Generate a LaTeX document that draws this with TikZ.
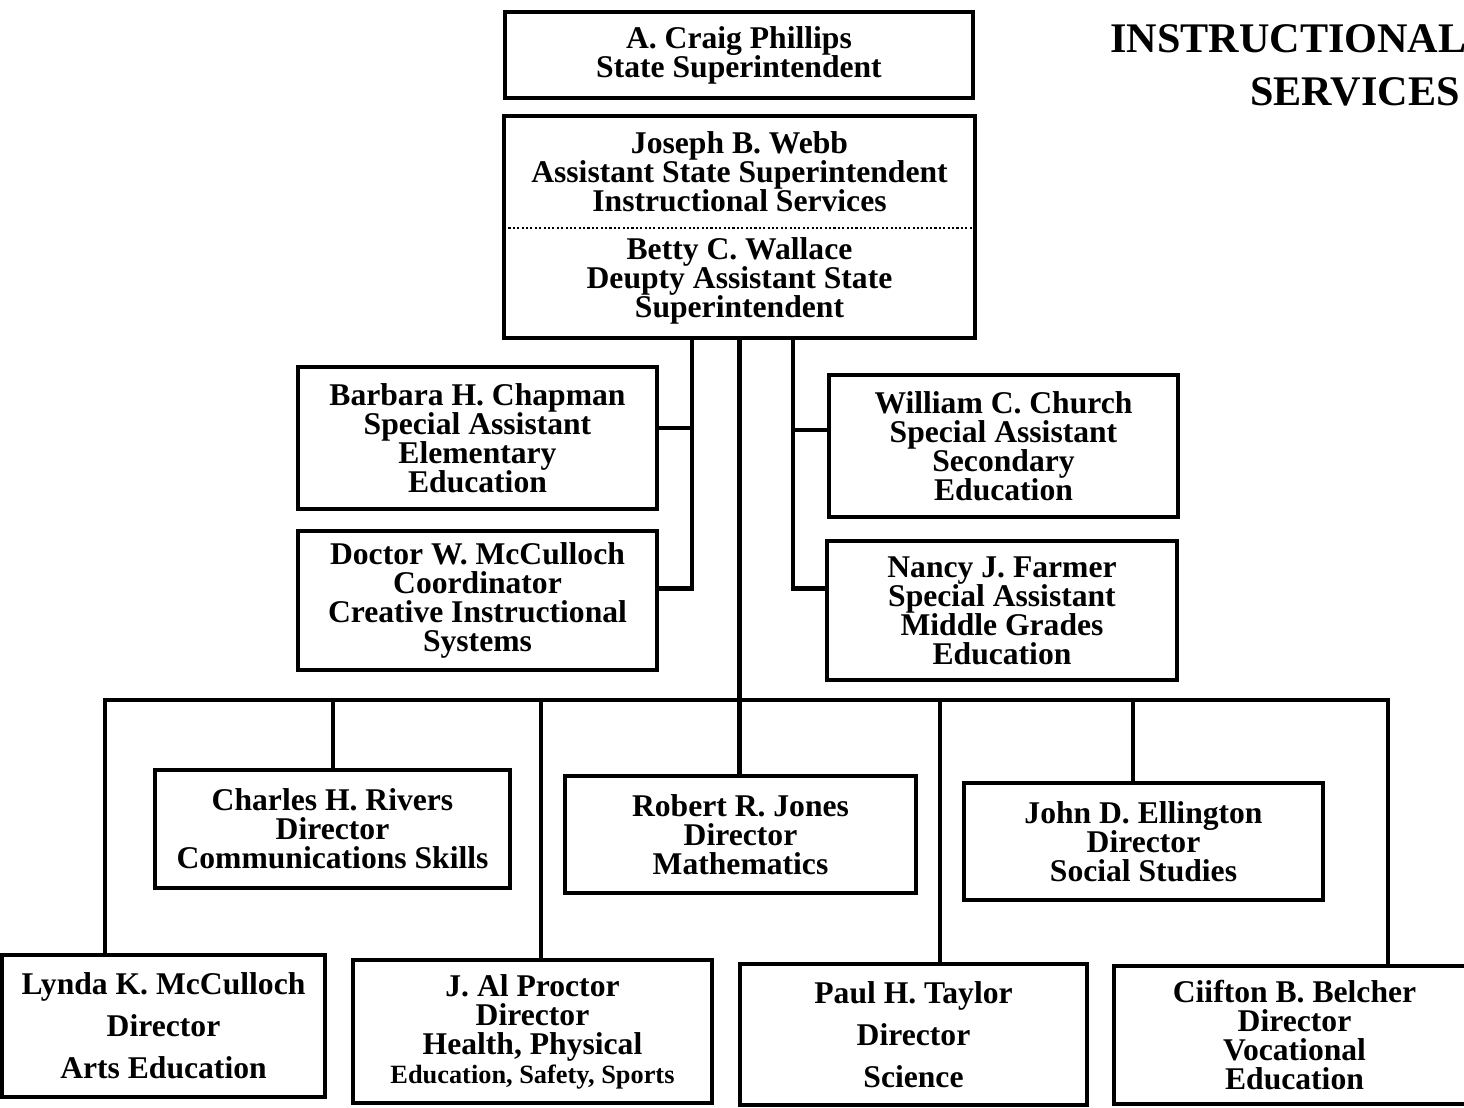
\documentclass[tikz,border=0pt]{standalone}
\usepackage{fontspec}
\setmainfont{Liberation Serif}
\usepackage{tikz}
\usetikzlibrary{positioning,calc}

\tikzset{
  post/.style={draw, line width=2.3pt, align=center, inner sep=0pt,
    font=\bfseries\fontsize{18}{16.5}\selectfont},
  half/.style={post, draw=none},
  link/.style={line width=2.3pt},
  heading/.style={inner sep=0pt, font=\bfseries\fontsize{24}{26}\selectfont},
}

\begin{document}
\begin{tikzpicture}[x=0.02cm,y=-0.02cm]
  \useasboundingbox (0,0) rectangle (1464,1107);
  % top of the chart
  \node[heading, anchor=base west] (title1) at (1110,52) {INSTRUCTIONAL};
  \node[heading, anchor=base west] (title2) at (1250,105) {SERVICES};
  \node[post, minimum width=9.36cm, minimum height=1.72cm] (phillips) at (739,55)
    {A. Craig Phillips\\State Superintendent};
  \node[half, minimum width=9.34cm, minimum height=2.16cm] (webb) at (739.5,172)
    {Joseph B. Webb\\Assistant State Superintendent\\Instructional Services};
  \node[half, minimum width=9.34cm, minimum height=2.2cm] (wallace) at (739.5,281)
    {Betty C. Wallace\\Deupty Assistant State\\Superintendent};
  \draw[link] (webb.north west) rectangle (wallace.south east);
  \draw[line width=1.2pt, dash pattern=on 1.2pt off 1.3pt] (webb.south west) -- (webb.south east);

  % special assistants
  \node[post, minimum width=7.18cm, minimum height=2.84cm] (chapman) at (477.5,438)
    {Barbara H. Chapman\\Special Assistant\\Elementary\\Education};
  \node[post, minimum width=7.18cm, minimum height=2.78cm] (dwmcculloch) at (477.5,600.5)
    {Doctor W. McCulloch\\Coordinator\\Creative Instructional\\Systems};
  \node[post, minimum width=6.98cm, minimum height=2.84cm] (church) at (1003.5,446)
    {William C. Church\\Special Assistant\\Secondary\\Education};
  \node[post, minimum width=7cm, minimum height=2.78cm] (farmer) at (1002,610.5)
    {Nancy J. Farmer\\Special Assistant\\Middle Grades\\Education};

  % directors
  \node[post, minimum width=7.1cm, minimum height=2.36cm] (rivers) at (332.5,829)
    {Charles H. Rivers\\Director\\Communications Skills};
  \node[post, minimum width=7.02cm, minimum height=2.34cm] (jones) at (740.5,834.5)
    {Robert R. Jones\\Director\\Mathematics};
  \node[post, minimum width=7.18cm, minimum height=2.34cm] (ellington) at (1143.5,841.5)
    {John D. Ellington\\Director\\Social Studies};
  \node[post, minimum width=6.46cm, minimum height=2.84cm] (lkmcculloch) at (163.5,1026)
    {Lynda K. McCulloch\\[7.5pt]Director\\[7.5pt]Arts Education};
  \node[post, minimum width=7.18cm, minimum height=2.86cm] (proctor) at (532.5,1031.5)
    {J. Al Proctor\\Director\\Health, Physical\\{\fontsize{15}{16.5}\selectfont Education, Safety, Sports}};
  \node[post, minimum width=6.94cm, minimum height=2.82cm] (taylor) at (913.5,1034.5)
    {Paul H. Taylor\\[7.5pt]Director\\[7.5pt]Science};
  \node[post, minimum width=7.22cm, minimum height=2.76cm] (belcher) at (1294.5,1035)
    {Ciifton B. Belcher\\Director\\Vocational\\Education};

  % connectors
  \coordinate (lspine) at ($(wallace.south)+(-47.5,0)$);
  \coordinate (rspine) at ($(wallace.south)+(53.5,0)$);
  \draw[link] (lspine) |- ([yshift=0.2cm]chapman.east);
  \draw[link] (lspine) |- ([yshift=0.24cm]dwmcculloch.east);
  \draw[link] (rspine) |- ([yshift=0.32cm]church.west);
  \draw[link] (rspine) |- ([yshift=0.44cm]farmer.west);
  \draw[link] (wallace.south) -- (wallace.south |- jones.north);

  \coordinate (busw) at (105,700);
  \coordinate (buse) at (1388,700);
  \coordinate (drivers) at (333,700);
  \coordinate (dproctor) at (541,700);
  \coordinate (dtaylor) at (940,700);
  \coordinate (dellington) at (1133,700);
  \draw[link] (busw |- lkmcculloch.north) -- (busw) -- (buse) -- (buse |- belcher.north);
  \foreach \n in {rivers,proctor,taylor,ellington}
    \draw[link] (d\n) -- (d\n |- \n.north);
\end{tikzpicture}
\end{document}
